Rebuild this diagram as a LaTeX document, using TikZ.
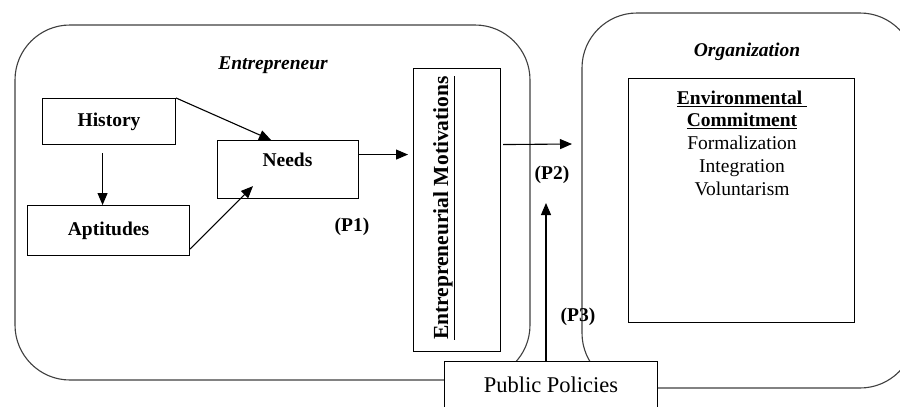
\documentclass[tikz,border=0pt]{standalone}
\usepackage{fontspec}
\setmainfont{Liberation Serif}
\usetikzlibrary{arrows.meta}
\begin{document}
\begin{tikzpicture}[x=1pt,y=-1pt,
  fs/.style={font=\fontsize{19.5}{22.7}\selectfont},
  group/.style={draw=black!75, line width=1.1pt, rounded corners=55pt},
  box/.style={draw=black, line width=1.1pt, fill=white, inner sep=0pt, anchor=north west},
  arr/.style={draw=black, line width=1.1pt, -{Triangle[length=12pt,width=10pt]}},
  lbl/.style={fs, font=\fontsize{19.5}{22.7}\selectfont\bfseries},
]
\useasboundingbox (0,0) rectangle (900,407);
\fill[white] (0,0) rectangle (900,407);

% group boxes
\draw[group] (15,25) rectangle (530,380);
\draw[group] (582,13) rectangle (915,388);
\node[font=\fontsize{19.5}{22.7}\selectfont\bfseries\itshape] (entlbl) at (273,65) {Entrepreneur};
\node[font=\fontsize{19.5}{22.7}\selectfont\bfseries\itshape] (orglbl) at (747,52) {Organization};

% entrepreneur boxes
\node[box, minimum width=133pt, minimum height=46pt, lbl] (hist) at (42,98) {History};
\node[box, minimum width=162pt, minimum height=50pt, lbl] (apt) at (27,205) {Aptitudes};
\node[box, minimum width=141pt, minimum height=58pt] (needs) at (217,140) {};
\node[lbl] (needslbl) at (287.5,160) {Needs};
\node[lbl] (p1) at (352,227) {(P1)};

\node[box, minimum width=87pt, minimum height=283pt] (em) at (413,68) {};
\node[font=\fontsize{21.5}{25}\selectfont\bfseries, rotate=90] (emlbl) at (444,208) {\underline{Entrepreneurial Motivations}};

% organization box
\node[box, minimum width=226pt, minimum height=244pt] (env) at (628,78) {};
\node[fs, align=center, anchor=north, inner sep=0pt] (envtxt) at (742,90.5) {\textbf{\underline{Environmental\ }}\\\textbf{\underline{Commitment}}\\Formalization\\Integration\\Voluntarism};

% public policies
\node[box, minimum width=213pt, minimum height=60pt] (pp) at (444,361) {};
\node[font=\fontsize{22.5}{26}\selectfont] (pplbl) at (551,385) {Public Policies};

\node[lbl] (p2) at (552,175) {(P2)};
\node[lbl] (p3) at (578,317) {(P3)};

% connectors
\draw[arr] (hist.north east) -- ([xshift=-17pt]needs.north);
\draw[arr] ([yshift=7pt]apt.south east) -- ([shift={(36pt,13pt)}]needs.south west);
\coordinate (h1) at ([shift={(-6.5pt,-8pt)}]hist.south);
\draw[arr] (h1) -- (h1 |- apt.north);
\coordinate (n1) at ([yshift=15pt]needs.east);
\draw[arr, shorten >=5pt] (n1) -- (n1 -| em.west);
\coordinate (e1) at ([yshift=65.5pt]em.east);
\coordinate (p2end) at (572,144);
\draw[arr] ([xshift=2pt]e1) -- (p2end);
\coordinate (pptop) at (546,361);
\coordinate (p3end) at (546,203);
\draw[arr] (pptop) -- (p3end);
\end{tikzpicture}
\end{document}
